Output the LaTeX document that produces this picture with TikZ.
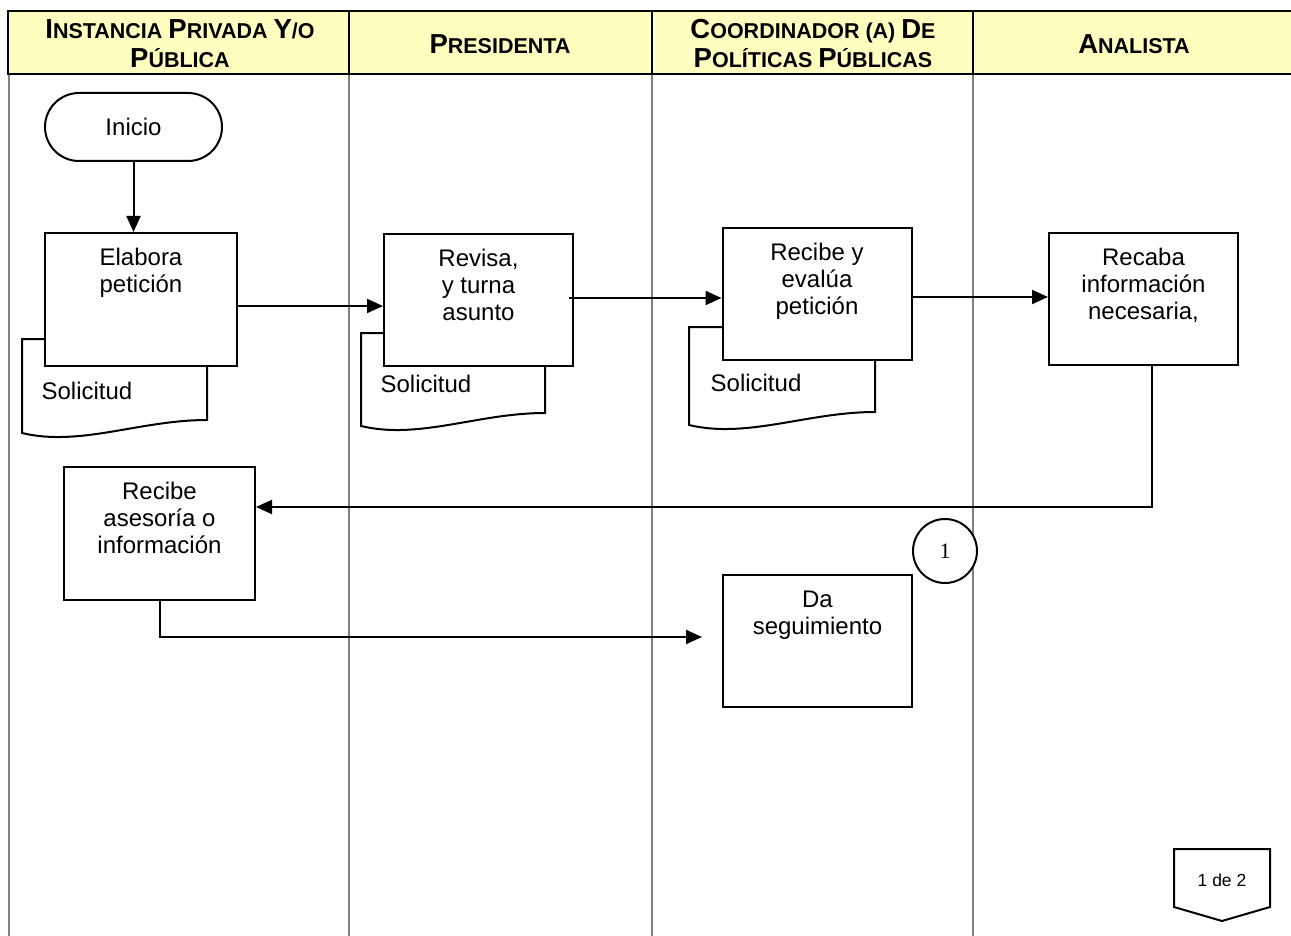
\documentclass[tikz,border=0pt]{standalone}
\usepackage{fontspec}
\setmainfont{Liberation Sans}
\newfontfamily\numfont{Liberation Serif}
\usetikzlibrary{arrows.meta,shapes.misc}

\definecolor{hdrfill}{RGB}{255,255,192}
\definecolor{lanegrey}{RGB}{128,128,128}

% bold small-caps heading: large initial letter inside smaller capitals
\newcommand{\hl}[1]{{\fontsize{27.5}{29}\selectfont #1}}

\tikzset{
  proc/.style={draw=black, line width=2pt, fill=white, minimum width=189pt, minimum height=132pt, inner sep=0pt},
  txt/.style={font=\fontsize{24}{27}\selectfont, align=center, inner sep=0pt},
  flow/.style={line width=2pt, -{Triangle[length=16pt,width=14pt]}},
  lane/.style={draw=lanegrey, line width=2pt},
  doc/.style={draw=black, line width=2pt, fill=white},
  hdr/.style={font=\bfseries\fontsize{21.5}{29}\selectfont, align=center, inner sep=0pt}
}

% document symbol: left, top, right, right-bottom
\newcommand{\docsym}[4]{%
  \path[doc] (#1,#2) -- (#3,#2) -- (#3,#4)
    .. controls ({#3-67},#4) and ({#1+58},{#4+27}) .. (#1,{#4+13}) -- cycle;}

\begin{document}
\begin{tikzpicture}[x=1pt,y=-1pt]
\useasboundingbox (0,0) rectangle (1291,936);

% swim lanes
\draw[lane] (9,74) -- (9,936);
\draw[lane] (349,74) -- (349,936);
\draw[lane] (652,74) -- (652,936);
\draw[lane] (973,74) -- (973,936);

% header row
\fill[hdrfill] (8,11) rectangle (1292,74);
\draw[line width=2.6pt] (1292,11) -- (8,11) -- (8,74) -- (1292,74);
\draw[line width=2pt] (349,11) -- (349,74) (652,11) -- (652,74) (973,11) -- (973,74);

\node[hdr] (h1) at (180,44) {\hl{I}NSTANCIA \hl{P}RIVADA \hl{Y}/O\\\hl{P}ÚBLICA};
\node[hdr] (h2) at (500,44) {\hl{P}RESIDENTA};
\node[hdr] (h3) at (813,44) {\hl{C}OORDINADOR (A) \hl{D}E\\\hl{P}OLÍTICAS \hl{P}ÚBLICAS};
\node[hdr] (h4) at (1134,44) {\hl{A}NALISTA};

% start terminal
\node[draw, line width=2pt, rounded rectangle, minimum width=177pt, minimum height=68pt, txt] (ini) at (133.5,127) {Inicio};

% documents behind the process boxes
\docsym{22}{339}{207}{420}
\node[txt] (s1) at (87,391) {Solicitud};
\docsym{361}{333}{545}{413}
\node[txt] (s2) at (426,384) {Solicitud};
\docsym{689}{327}{875}{412}
\node[txt] (s3) at (756,383) {Solicitud};

% process boxes
\node[proc, minimum width=192pt, minimum height=133pt] (elab) at (141,299.5) {};
\node[txt, anchor=north] (elabt) at ([yshift=-16pt]elab.north) {Elabora\\petición};

\node[proc] (rev) at (478.5,300) {};
\node[txt, anchor=north] (revt) at ([yshift=-16pt]rev.north) {Revisa,\\y turna\\asunto};

\node[proc] (eva) at (817,294) {};
\node[txt, anchor=north] (evat) at ([yshift=-16pt]eva.north) {Recibe y\\evalúa\\petición};

\node[proc] (rec) at (1143.5,299) {};
\node[txt, anchor=north] (rect) at ([yshift=-16pt]rec.north) {Recaba\\información\\necesaria,};

\node[proc, minimum width=191pt, minimum height=133pt] (ase) at (159.5,533.5) {};
\node[txt, anchor=north] (aset) at ([yshift=-16pt]ase.north) {Recibe\\asesoría o\\información};

\node[proc] (seg) at (817.5,640.5) {};
\node[txt, anchor=north] (segt) at ([yshift=-17pt]seg.north) {Da\\seguimiento};

% connector
\node[draw, circle, line width=2pt, fill=white, minimum size=64pt, inner sep=0pt, font=\numfont\fontsize{22}{22}\selectfont] (c1) at (945,551) {1};

% off-page connector
\draw[line width=2pt] (1174,849) -- (1270,849) -- (1270,907) -- (1222,921) -- (1174,907) -- cycle;
\node[font=\fontsize{17.5}{17.5}\selectfont, inner sep=0pt] (pg) at (1222,880) {1 de 2};

% flow
\draw[flow] (ini.south) -- (ini.south |- elab.north);
\draw[flow] (elab.east |- 0,306) -- (rev.west |- 0,306);
\draw[flow] (569,298) -- (eva.west |- 0,298);
\draw[flow] (eva.east |- 0,297) -- (rec.west |- 0,297);
\draw[flow] (rec.south -| 1152,0) |- (ase.east |- 0,507);
\coordinate (segin) at (702,637);
\draw[flow] (ase.south) |- (segin);
\end{tikzpicture}
\end{document}
